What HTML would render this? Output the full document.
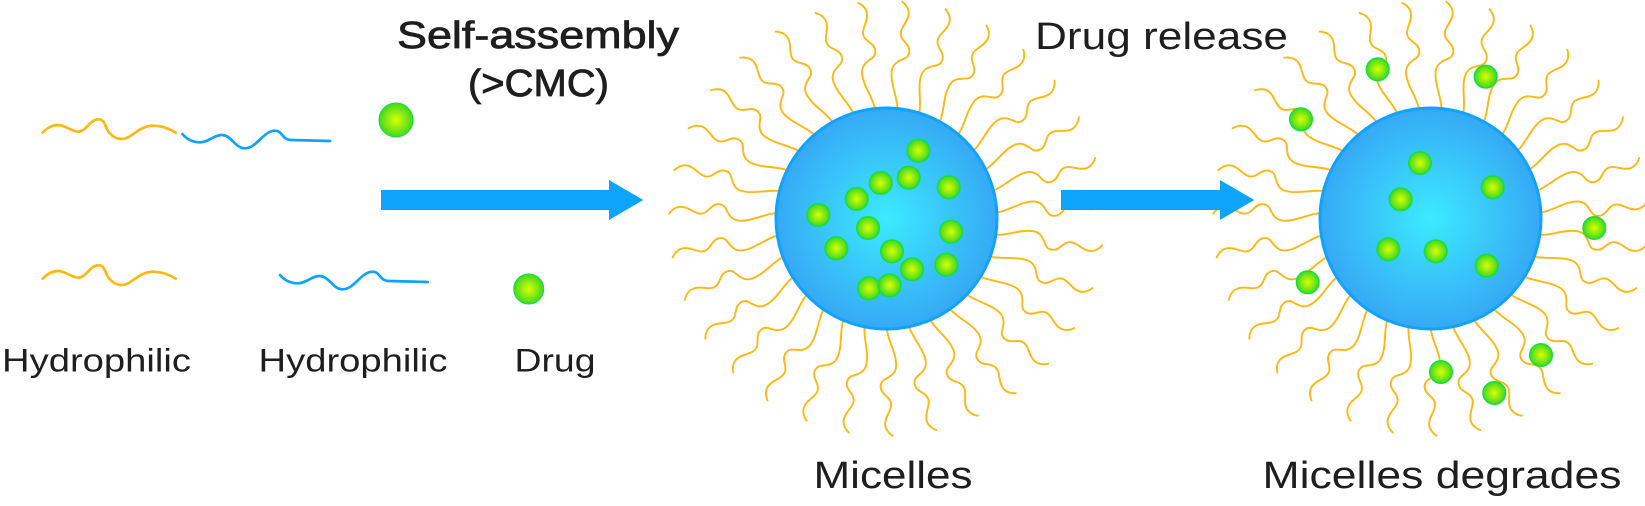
<!DOCTYPE html>
<html>
<head>
<meta charset="utf-8">
<style>
html,body{margin:0;padding:0;background:#fff;width:1645px;height:506px;overflow:hidden}
svg{display:block}
text{font-family:"Liberation Sans",sans-serif;fill:#1e1e1e}
</style>
</head>
<body>
<svg width="1645" height="506" viewBox="0 0 1645 506" xmlns="http://www.w3.org/2000/svg">
<defs>
<radialGradient id="sph"><stop offset="0" stop-color="#3ceaff"/><stop offset="1" stop-color="#36a9f5"/></radialGradient>
<radialGradient id="drug"><stop offset="0" stop-color="#dcff00"/><stop offset="1" stop-color="#3fd822"/></radialGradient>
<path id="t" fill="none" stroke="#fdb813" stroke-width="1.9" stroke-linecap="round" d="M10.8 -111.2C10.5 -122 4 -135 5.2 -146.8C6 -155 12 -157.5 18.5 -160.2C22 -162 23 -165.5 22.8 -168.5C22.5 -175 14 -178 14.2 -185.2C14.4 -192 22 -197 22.2 -205.2C22.3 -210 19 -214.5 15.8 -216.8"/>
<g id="tails">
<use href="#t"/>
<use href="#t" transform="rotate(11.61)"/>
<use href="#t" transform="rotate(23.23)"/>
<use href="#t" transform="rotate(34.84)"/>
<use href="#t" transform="rotate(46.45)"/>
<use href="#t" transform="rotate(58.06)"/>
<use href="#t" transform="rotate(69.68)"/>
<use href="#t" transform="rotate(81.29)"/>
<use href="#t" transform="rotate(92.9)"/>
<use href="#t" transform="rotate(104.52)"/>
<use href="#t" transform="rotate(116.13)"/>
<use href="#t" transform="rotate(127.74)"/>
<use href="#t" transform="rotate(139.35)"/>
<use href="#t" transform="rotate(150.97)"/>
<use href="#t" transform="rotate(162.58)"/>
<use href="#t" transform="rotate(174.19)"/>
<use href="#t" transform="rotate(185.81)"/>
<use href="#t" transform="rotate(197.42)"/>
<use href="#t" transform="rotate(209.03)"/>
<use href="#t" transform="rotate(220.65)"/>
<use href="#t" transform="rotate(232.26)"/>
<use href="#t" transform="rotate(243.87)"/>
<use href="#t" transform="rotate(255.48)"/>
<use href="#t" transform="rotate(267.1)"/>
<use href="#t" transform="rotate(278.71)"/>
<use href="#t" transform="rotate(290.32)"/>
<use href="#t" transform="rotate(301.94)"/>
<use href="#t" transform="rotate(313.55)"/>
<use href="#t" transform="rotate(325.16)"/>
<use href="#t" transform="rotate(336.77)"/>
<use href="#t" transform="rotate(348.39)"/>
<circle r="110.5" fill="url(#sph)" stroke="#10a3fb" stroke-width="3"/>
</g>
<circle id="d" r="11.3" fill="url(#drug)" stroke="#12e03c" stroke-width="1.5"/>
</defs>

<rect width="1645" height="506" fill="#fff"/>

<!-- legend strands -->
<g transform="translate(0,80) scale(.33333)" fill="none" stroke-width="8" stroke-linecap="round">
<path stroke="#fdb813" d="M128 158C142 143 158 135 175 135C195 135 215 155 235 155C258 155 270 118 295 118C318 118 315 148 330 160C340 172 352 177 365 177C395 177 415 137 460 137C488 137 510 147 527 158"/>
<path stroke="#fdb813" transform="translate(0,438)" d="M128 158C142 143 158 135 175 135C195 135 215 155 235 155C258 155 270 118 295 118C318 118 315 148 330 160C340 172 352 177 365 177C395 177 415 137 460 137C488 137 510 147 527 158"/>
<path stroke="#10a3fb" d="M547 162C560 177 578 187 600 187C625 187 642 165 665 165C695 165 705 205 735 205C770 205 790 152 825 152C848 152 845 180 875 180L990 183"/>
<path stroke="#10a3fb" transform="translate(293,423)" d="M547 162C560 177 578 187 600 187C625 187 642 165 665 165C695 165 705 205 735 205C770 205 790 152 825 152C848 152 845 180 875 180L990 183"/>
</g>
<circle cx="396" cy="120" r="17" fill="url(#drug)" stroke="#12e03c" stroke-width="1"/>
<circle cx="528.7" cy="289" r="15" fill="url(#drug)" stroke="#12e03c" stroke-width="1"/>

<!-- micelle 1 -->
<g transform="translate(886.5,218.5)"><use href="#tails"/></g>
<use href="#d" x="918.3" y="150.7"/>
<use href="#d" x="908.7" y="177.7"/>
<use href="#d" x="880.7" y="183"/>
<use href="#d" x="856.7" y="199"/>
<use href="#d" x="818.3" y="215"/>
<use href="#d" x="948.7" y="187.3"/>
<use href="#d" x="868" y="228"/>
<use href="#d" x="951" y="231.7"/>
<use href="#d" x="836.3" y="248.3"/>
<use href="#d" x="892" y="251.3"/>
<use href="#d" x="912" y="269.3"/>
<use href="#d" x="946.3" y="264.7"/>
<use href="#d" x="869" y="288.3"/>
<use href="#d" x="889.7" y="285.3"/>

<!-- micelle 2 -->
<g transform="translate(1430.5,218.5)"><use href="#tails"/></g>
<use href="#d" x="1377.7" y="69.3"/>
<use href="#d" x="1485.7" y="76.7"/>
<use href="#d" x="1301" y="119.3"/>
<use href="#d" x="1420" y="163"/>
<use href="#d" x="1492.7" y="187.3"/>
<use href="#d" x="1400.7" y="199.3"/>
<use href="#d" x="1594.3" y="228"/>
<use href="#d" x="1307.7" y="282.3"/>
<use href="#d" x="1388.3" y="249.3"/>
<use href="#d" x="1435.7" y="251.3"/>
<use href="#d" x="1486.7" y="265.7"/>
<use href="#d" x="1541" y="355"/>
<use href="#d" x="1441" y="372"/>
<use href="#d" x="1494.3" y="393"/>

<!-- arrows -->
<path fill="#0ea4fc" d="M381 190H609V180L643.3 200L609 220V210H381Z"/>
<path fill="#0ea4fc" d="M1061 190H1220V180L1254.3 200L1220 220V210H1061Z"/>

<!-- labels -->
<text x="397" y="48" font-size="38" stroke="#1e1e1e" stroke-width=".8" textLength="282" lengthAdjust="spacingAndGlyphs">Self-assembly</text>
<text x="468" y="96" font-size="38" stroke="#1e1e1e" stroke-width=".8" textLength="141" lengthAdjust="spacingAndGlyphs">(&gt;CMC)</text>
<text x="1035" y="49" font-size="38" textLength="253" lengthAdjust="spacingAndGlyphs">Drug release</text>
<text x="2" y="371.7" font-size="32" textLength="189" lengthAdjust="spacingAndGlyphs">Hydrophilic</text>
<text x="258.5" y="371.7" font-size="32" textLength="189" lengthAdjust="spacingAndGlyphs">Hydrophilic</text>
<text x="514.5" y="371.7" font-size="32" textLength="81" lengthAdjust="spacingAndGlyphs">Drug</text>
<text x="813.5" y="488" font-size="38" textLength="159" lengthAdjust="spacingAndGlyphs">Micelles</text>
<text x="1262.5" y="488" font-size="38" textLength="359" lengthAdjust="spacingAndGlyphs">Micelles degrades</text>
</svg>
</body>
</html>
